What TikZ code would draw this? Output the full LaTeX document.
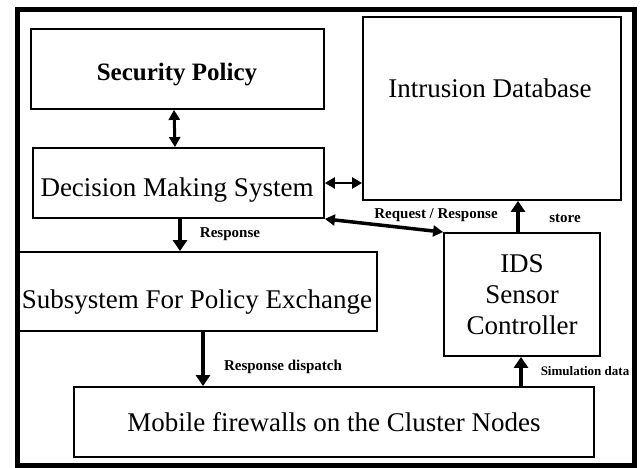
\documentclass[tikz,border=0pt]{standalone}
\usepackage{fontspec}
\setmainfont{Liberation Serif}
\usetikzlibrary{arrows.meta}
\begin{document}
\begin{tikzpicture}[x=1bp,y=-1bp,
  box/.style={draw, line width=1.8bp, inner sep=0pt},
  bigtxt/.style={font=\fontsize{27bp}{31bp}\selectfont, inner sep=0pt, align=center},
  lbl/.style={font=\bfseries\fontsize{15bp}{17bp}\selectfont, inner sep=0pt},
  dbl/.style={line width=3bp, {Triangle[length=10bp,width=11bp]}-{Triangle[length=10bp,width=11bp]}},
  arr/.style={line width=3.5bp, -{Triangle[length=11bp,width=14bp]}}]
\useasboundingbox (0,0) rectangle (640,468);

% outer frame
\draw[line width=5bp] (17,10) rectangle (634,465);

% component boxes
\node[box, minimum width=293bp, minimum height=80bp]  (sp)  at (177.5,69)   {};
\node[box, minimum width=291bp, minimum height=70bp]  (dms) at (178.5,183)  {};
\node[box, minimum width=258bp, minimum height=183bp] (db)  at (492,108.5)  {};
\node[box, minimum width=359bp, minimum height=79bp]  (sub) at (197.5,291.5) {};
\node[box, bigtxt, minimum width=156bp, minimum height=123bp] (ids) at (522,294.5)
  {IDS\\Sensor\\Controller};
\node[box, bigtxt, minimum width=520bp, minimum height=70bp] (mob) at (334,422)
  {Mobile firewalls on the Cluster Nodes};

% box titles
\node[font=\bfseries\fontsize{25bp}{29bp}\selectfont, inner sep=0pt] (sptext) at (177,75) {Security Policy};
\node[bigtxt] (dmstext) at (177,190) {Decision Making System};
\node[bigtxt] (dbtext)  at (490,88)  {Intrusion Database};
\node[bigtxt] (subtext) at (197,302) {Subsystem For Policy Exchange};

% connectors
\draw[dbl] ([xshift=-3.5bp]sp.south) -- ([xshift=-3.5bp]dms.north);
\draw[dbl, line width=2.5bp] (dms.east) -- (dms.east -| db.west);
\draw[dbl, line width=3.5bp] (dms.south east) -- (ids.north west);
\draw[arr] ([xshift=-4bp]ids.north) -- ([xshift=-4bp]ids.north |- db.south);
\draw[arr] ([xshift=1.5bp]dms.south) -- ([xshift=1.5bp]dms.south |- sub.north);
\draw[arr] ([xshift=5.5bp]sub.south) -- ([xshift=5.5bp]sub.south |- mob.north);
\draw[arr] ([xshift=-1bp]ids.south |- mob.north) -- ([xshift=-1bp]ids.south);

% connector labels
\node[lbl] (l1) at (230,234) {Response};
\node[lbl] (l2) at (436,215) {Request / Response};
\node[lbl] (l3) at (565,218) {store};
\node[lbl] (l4) at (283,367) {Response dispatch};
\node[lbl, font=\bfseries\fontsize{13bp}{15bp}\selectfont] (l5) at (585,371) {Simulation data};
\end{tikzpicture}
\end{document}
